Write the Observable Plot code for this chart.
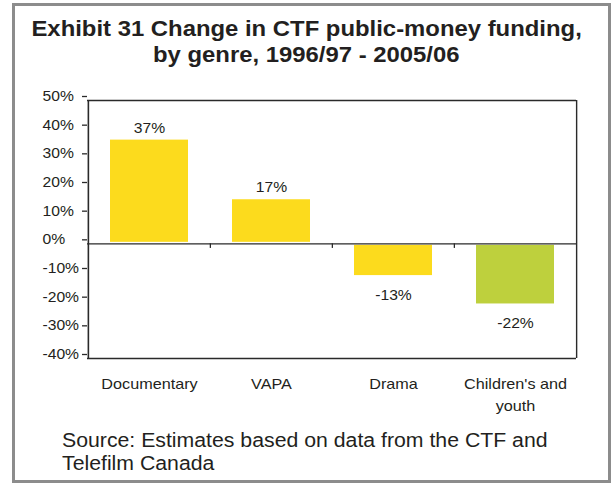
<!DOCTYPE html>
<html><head><meta charset="utf-8">
<script src="https://cdn.jsdelivr.net/npm/d3@7"></script>
<script src="https://cdn.jsdelivr.net/npm/@observablehq/plot@0.6"></script>
<style>
body{margin:0;background:#fff;font-family:"Liberation Sans",Arial,sans-serif;color:#231f20;}
#page{position:relative;width:613px;height:483px;overflow:hidden;}
#border{position:absolute;left:12px;top:3px;width:593px;height:474px;border:3px solid #8c8c8c;}
#title{position:absolute;left:0;top:16px;width:613px;text-align:center;font-weight:bold;font-size:22px;line-height:26px;}
#title div span{display:inline-block;transform:scaleX(1.085);white-space:nowrap;}
#chart{position:absolute;left:0;top:80px;}
#caption{position:absolute;left:62px;top:429px;font-size:19.5px;line-height:23px;transform:scaleX(1.09);transform-origin:left top;white-space:nowrap;}
</style></head>
<body><div id="page"><div id="border"></div><div id="title"></div><div id="chart"></div><div id="caption"></div></div>
<script>
const titleLines = ["Exhibit 31 Change in CTF public-money funding,", "by genre, 1996/97 - 2005/06"];
const captionLines = ["Source: Estimates based on data from the CTF and", "Telefilm Canada"];
const categories = ["Documentary", "VAPA", "Drama", "Children's and\nyouth"];
const values = [36.7, 15.9, -11.6, -21.5];
const valueLabels = ["37%", "17%", "-13%", "-22%"];
const barColors = ["#fcdb1d", "#fcdb1d", "#fcdb1d", "#bed03d"];
const yTicks = [-40, -30, -20, -10, 0, 10, 20, 30, 40, 50];

const tEl = document.getElementById("title");
titleLines.forEach(l => { const d = document.createElement("div"); const s = document.createElement("span"); s.textContent = l; d.appendChild(s); tEl.appendChild(d); });
const cEl = document.getElementById("caption");
captionLines.forEach(l => { const d = document.createElement("div"); d.textContent = l; cEl.appendChild(d); });

const W = 613, H = 340, mL = 87, mR = 37, mT = 20, mB = 62;
const data = categories.map((c, i) => ({genre: c, value: values[i], label: valueLabels[i], color: barColors[i]}));
const half = (W - mL - mR) / categories.length / 2;
const yMin = yTicks[0], yMax = yTicks[yTicks.length - 1];
const lineColor = "#2a2a2a";

const chart = Plot.plot({
  width: W, height: H,
  marginLeft: mL, marginRight: mR, marginTop: mT, marginBottom: mB,
  style: {fontFamily: "'Liberation Sans', Arial, sans-serif", fontSize: "14px", color: "#231f20", background: "transparent", overflow: "visible"},
  x: {domain: categories, padding: 0, label: null},
  y: {domain: [yMin, yMax], label: null},
  color: {type: "identity"},
  marks: [
    Plot.barY(data, {x: "genre", y: "value", fill: "color", insetLeft: 22, insetRight: 22, insetTop: 1.5, insetBottom: 1.5}),
    Plot.ruleY([0], {stroke: lineColor, strokeWidth: 1.3}),
    Plot.ruleX(categories.slice(1), {x: d => d, y1: 0, y2: -1.6, dx: -half, stroke: lineColor, strokeWidth: 1.3}),
    Plot.ruleY([yMin, yMax], {stroke: lineColor, strokeWidth: 1.4}),
    Plot.ruleX(categories.slice(0, 1), {x: d => d, y1: yMin, y2: yMax, dx: -half, stroke: lineColor, strokeWidth: 1.6}),
    Plot.ruleX(categories.slice(-1), {x: d => d, y1: yMin, y2: yMax, dx: half, stroke: lineColor, strokeWidth: 1.4}),
    Plot.axisY({ticks: yTicks, tickFormat: d => d + "%", tickSize: 5, tickPadding: 40, textAnchor: "start", dy: -4, fontSize: 14.5, stroke: lineColor, strokeWidth: 1.3, strokeOpacity: 1}),
    Plot.axisX({tickSize: 0, tickPadding: 15, fontSize: 15, lineHeight: 1.45}),
    Plot.text(data.filter(d => d.value >= 0), {x: "genre", y: "value", text: "label", dy: -10.5, fontSize: 14.5}),
    Plot.text(data.filter(d => d.value < 0), {x: "genre", y: "value", text: "label", dy: 18, fontSize: 14.5})
  ]
});
document.getElementById("chart").appendChild(chart);

// horizontally widen glyphs like the reference rendering
chart.querySelectorAll("text").forEach(el => {
  const t = el.getAttribute("transform");
  if (t) el.setAttribute("transform", t + " scale(1.08,1)");
  else {
    const x = +(el.getAttribute("x") || 0), y = +(el.getAttribute("y") || 0);
    el.setAttribute("transform", `translate(${x},${y}) scale(1.08,1) translate(${-x},${-y})`);
  }
});
</script>
</body></html>
